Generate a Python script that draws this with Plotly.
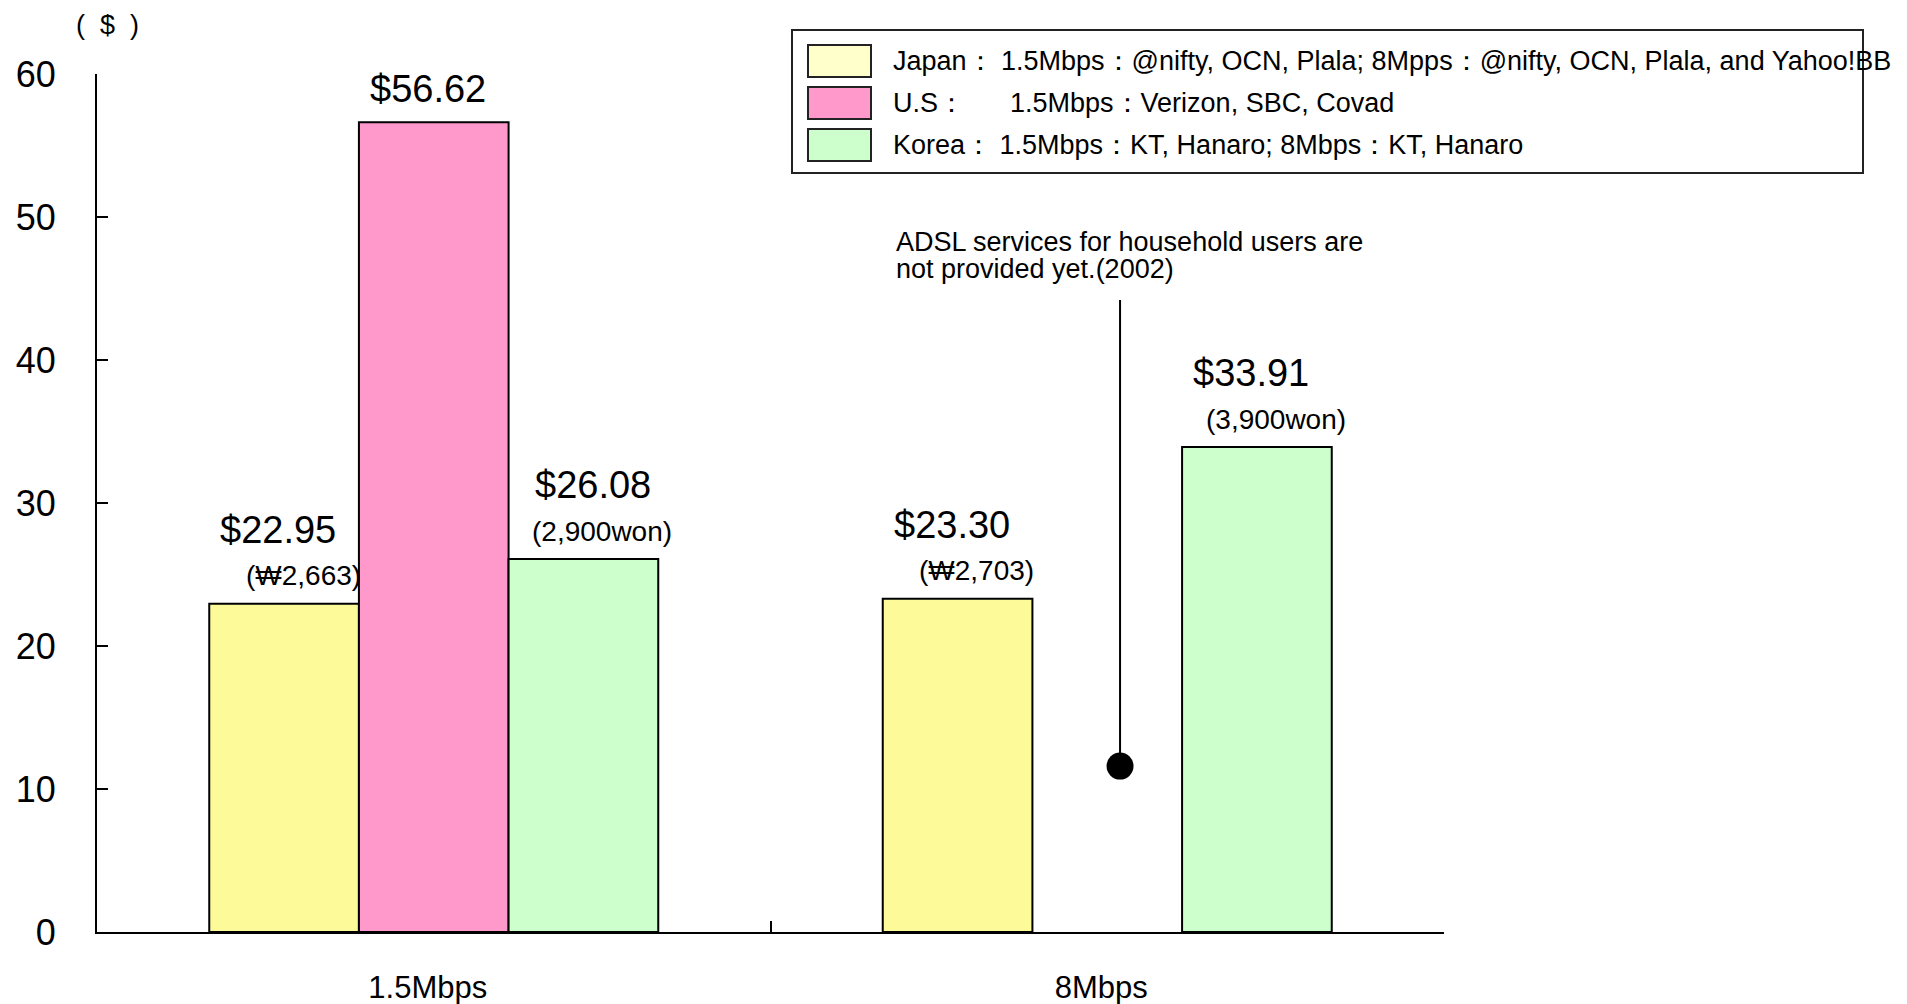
import plotly.graph_objects as go

# ADSL monthly fees (US$) by downstream speed
categories = ["1.5Mbps", "8Mbps"]
series_names = ["Japan", "U.S", "Korea"]
japan_usd = [22.95, 23.30]
us_usd = [56.62, None]
korea_usd = [26.08, 33.91]
japan_won = [2663, 2703]
korea_won = [2900, 3900]

legend_labels = [
    "Japan： 1.5Mbps：@nifty, OCN, Plala; 8Mpps：@nifty, OCN, Plala, and Yahoo!BB",
    "U.S：      1.5Mbps：Verizon, SBC, Covad",
    "Korea： 1.5Mbps：KT, Hanaro; 8Mbps：KT, Hanaro",
]
note_lines = ["ADSL services for household users are", "not provided yet.(2002)"]
y_title = "(  $  )"

bar_colors = ["#FDFB99", "#FF99CC", "#CCFFCC"]
swatch_colors = ["#FFFFCC", "#FF99CC", "#CCFFCC"]
FONT = "Liberation Sans, Arial, sans-serif"

# plot-area geometry in pixels
W, H = 1907, 1004
L, R, T, B = 97, 1444, 74, 932


def px_x(x):
    return (x - L) / (R - L)


def px_y(y):
    return (B - y) / (B - T)


fig = go.Figure()
values = [japan_usd, us_usd, korea_usd]
for name, vals, col in zip(series_names, values, bar_colors):
    fig.add_trace(go.Bar(
        x=categories, y=vals, name=name,
        marker=dict(color=col, line=dict(color="#000000", width=2)),
        showlegend=False, hoverinfo="x+y+name",
    ))

# value labels above each bar
n_series = len(series_names)
slot = (1 - 1 / 3) / n_series  # bar width in category units
sub_labels = [
    [f"(₩{w:,})" for w in japan_won],
    [None, None],
    [f"({w:,}won)" for w in korea_won],
]
annotations = []
for si, vals in enumerate(values):
    for ci, v in enumerate(vals):
        if v is None:
            continue
        xc = ci + (si - (n_series - 1) / 2) * slot
        sub = sub_labels[si][ci]
        annotations.append(dict(
            x=xc, y=v, xref="x", yref="y", text=f"${v:.2f}", showarrow=False,
            xanchor="center", yanchor="middle",
            xshift=10 if (si == 2 and ci == 0) else -6,
            yshift=74 if sub else 33,
            font=dict(family=FONT, size=38, color="#000000"),
        ))
        if sub:
            annotations.append(dict(
                x=xc, y=v, xref="x", yref="y", text=sub, showarrow=False,
                xanchor="center", yanchor="middle", xshift=19, yshift=28,
                font=dict(family=FONT, size=28, color="#000000"),
            ))

# note for the missing U.S. 8Mbps service
note_x = 0.683
for i, line in enumerate(note_lines):
    annotations.append(dict(
        x=note_x, y=48.25 - i * 1.9, xref="x", yref="y", text=line, showarrow=False,
        xanchor="left", yanchor="middle",
        font=dict(family=FONT, size=27, color="#000000"),
    ))

annotations.append(dict(
    x=px_x(107), y=px_y(25), xref="paper", yref="paper", text=y_title,
    showarrow=False, xanchor="center", yanchor="middle",
    font=dict(family=FONT, size=27, color="#000000"),
))

shapes = [
    dict(type="line", xref="x", yref="y", x0=1.019, x1=1.019, y0=11.6, y1=44.2,
         line=dict(color="#000000", width=2)),
    dict(type="circle", xref="x", yref="y", xsizemode="pixel", ysizemode="pixel",
         xanchor=1.019, yanchor=11.6, x0=-13.5, x1=13.5, y0=-13.5, y1=13.5,
         fillcolor="#000000", line=dict(color="#000000", width=0)),
]

# legend box drawn in paper coordinates
shapes.append(dict(type="rect", xref="paper", yref="paper",
                   x0=px_x(792), x1=px_x(1863), y0=px_y(173), y1=px_y(30),
                   line=dict(color="#222222", width=2), fillcolor="rgba(0,0,0,0)"))
row_y = [61, 103, 145]
for lbl, col, ry in zip(legend_labels, swatch_colors, row_y):
    shapes.append(dict(type="rect", xref="paper", yref="paper",
                       x0=px_x(808), x1=px_x(871), y0=px_y(ry + 16), y1=px_y(ry - 16),
                       fillcolor=col, line=dict(color="#222222", width=2)))
    annotations.append(dict(
        x=px_x(891), y=px_y(ry), xref="paper", yref="paper", text=lbl,
        showarrow=False, xanchor="left", yanchor="middle",
        font=dict(family=FONT, size=27, color="#000000"),
    ))

fig.update_layout(
    width=W, height=H,
    margin=dict(l=L, r=W - R, t=T, b=H - B, pad=0, autoexpand=False),
    paper_bgcolor="#FFFFFF", plot_bgcolor="#FFFFFF",
    barmode="group", bargap=1 / 3, bargroupgap=0,
    annotations=annotations, shapes=shapes,
    font=dict(family=FONT, color="#000000"),
)
fig.update_xaxes(
    type="category", range=[-0.5, 1.5], showgrid=False, zeroline=False,
    showline=True, linecolor="#000000", linewidth=2, automargin=False,
    ticks="inside", tickson="boundaries", ticklen=11, tickwidth=2, tickcolor="#000000",
    tickfont=dict(family=FONT, size=31, color="#000000"), ticklabelstandoff=27,
    ticklabelshift=-6,
)
fig.update_yaxes(
    range=[0, 60], dtick=10, showgrid=False, zeroline=False,
    showline=True, linecolor="#000000", linewidth=2, automargin=False,
    ticks="inside", ticklen=11, tickwidth=2, tickcolor="#000000",
    tickfont=dict(family=FONT, size=36, color="#000000"), ticklabelstandoff=32,
)

fig.write_html("out.html")
